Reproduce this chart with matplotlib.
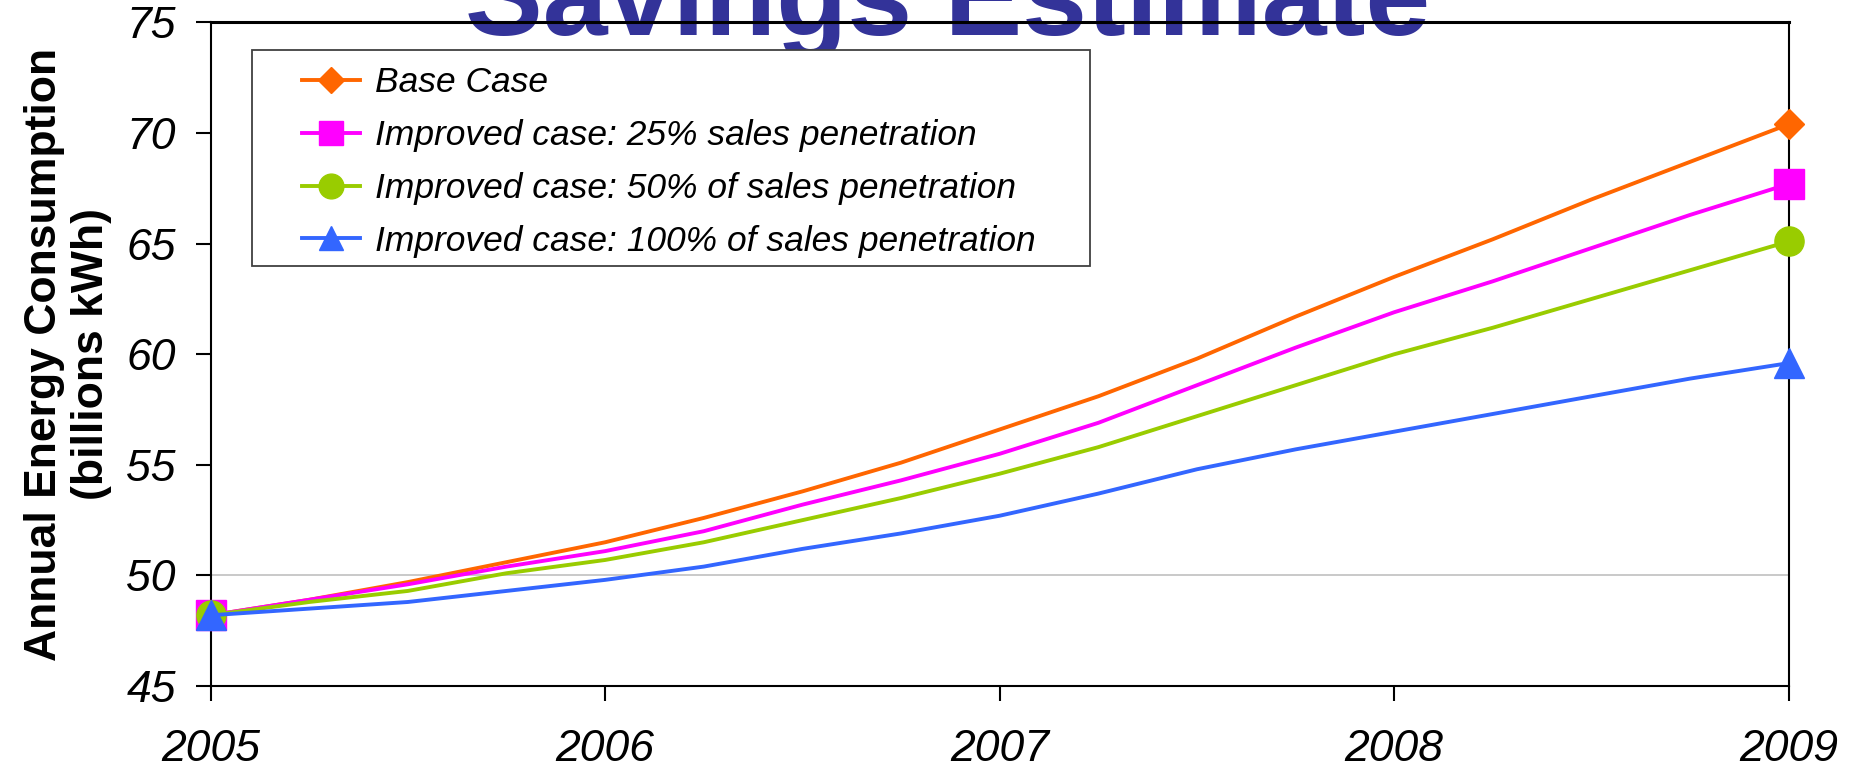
import matplotlib
matplotlib.use("Agg")
import matplotlib.pyplot as plt
from matplotlib.patches import Rectangle

plt.rcParams['font.family'] = ['Liberation Sans', 'DejaVu Sans']

# quarterly points, 2005 - 2009
periods = [2005.0, 2005.25, 2005.5, 2005.75, 2006.0, 2006.25, 2006.5, 2006.75,
           2007.0, 2007.25, 2007.5, 2007.75, 2008.0, 2008.25, 2008.5, 2008.75, 2009.0]
year_ticks = [2005, 2006, 2007, 2008, 2009]

base_case = [48.2, 48.9, 49.7, 50.6, 51.5, 52.6, 53.8, 55.1, 56.6,
             58.1, 59.8, 61.7, 63.5, 65.2, 67.0, 68.7, 70.4]
case_25 = [48.2, 48.9, 49.6, 50.4, 51.1, 52.0, 53.2, 54.3, 55.5,
           56.9, 58.6, 60.3, 61.9, 63.3, 64.8, 66.3, 67.7]
case_50 = [48.2, 48.8, 49.3, 50.1, 50.7, 51.5, 52.5, 53.5, 54.6,
           55.8, 57.2, 58.6, 60.0, 61.2, 62.5, 63.8, 65.1]
case_100 = [48.2, 48.5, 48.8, 49.3, 49.8, 50.4, 51.2, 51.9, 52.7,
            53.7, 54.8, 55.7, 56.5, 57.3, 58.1, 58.9, 59.6]

labels = ["Base Case",
          "Improved case: 25% sales penetration",
          "Improved case: 50% of sales penetration",
          "Improved case: 100% of sales penetration"]
colors = ["#FF6600", "#FF00FF", "#99CC00", "#3366FF"]
markers = ["D", "s", "o", "^"]
msizes = [15, 21, 21, 21]

fig = plt.figure(figsize=(18.54, 7.73), dpi=100)
ax = fig.add_axes([0.1136, 0.1125, 0.8512, 0.8584])
ax.patch.set_alpha(0)

# title sits behind the axes, partly cut off at the top
fig.text(0.511, 0.955, "Savings Estimate", color="#333399", fontsize=84,
         fontweight="bold", ha="center", va="baseline", zorder=-1)

ax.axhline(50, color="#C0C0C0", lw=1.2, zorder=1)

series = [base_case, case_25, case_50, case_100]
for vals, lab, c, m, ms in zip(series, labels, colors, markers, msizes):
    ax.plot(periods, vals, color=c, lw=2.8, marker=m, ms=ms, markevery=[0, -1],
            label=lab, clip_on=False, zorder=3)

ax.set_xlim(2005, 2009)
ax.set_ylim(45, 75)
ax.set_xticks(year_ticks)
ax.set_xticklabels([str(y) for y in year_ticks], fontstyle="italic", fontsize=32)
ax.set_yticks(range(45, 80, 5))
ax.set_yticklabels([str(v) for v in range(45, 80, 5)], fontstyle="italic", fontsize=32)
ax.tick_params(axis="x", direction="out", length=11, width=1.5, pad=20)
ax.tick_params(axis="y", direction="out", length=11, width=1.5, pad=14)

for s in ["left", "bottom", "right"]:
    ax.spines[s].set_linewidth(1.5)
ax.spines["top"].set_linewidth(2.2)

ax.set_ylabel("Annual Energy Consumption\n(billions kWh)", fontsize=32,
              fontweight="bold")
ax.yaxis.set_label_coords(-0.0625, 0.5)

# legend box drawn separately so the padding matches
ax.add_patch(Rectangle((0.0262, 0.633), 0.531, 0.3256, transform=ax.transAxes,
                       facecolor="white", edgecolor="#404040", lw=1.3, zorder=4))
leg = ax.legend(loc="upper left", bbox_to_anchor=(0.0579, 0.934), frameon=False,
                prop={"style": "italic", "size": 25.5}, borderpad=0,
                borderaxespad=0, handlelength=1.65, handletextpad=0.4,
                labelspacing=0.56, markerscale=0.85)
leg.set_zorder(5)

fig.savefig("out.png", dpi=100)
